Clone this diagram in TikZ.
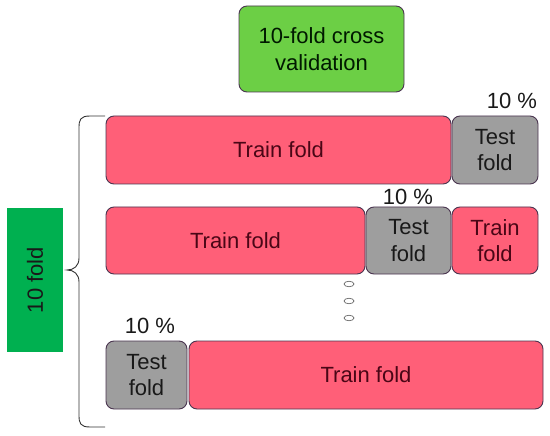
\documentclass[tikz,border=0pt]{standalone}
\usepackage{fontspec}
\setmainfont{Liberation Sans}
\usetikzlibrary{shapes.geometric}
\definecolor{trainc}{HTML}{FF5F78}
\definecolor{testc}{HTML}{9E9E9E}
\definecolor{topc}{HTML}{6CCF45}
\definecolor{foldc}{HTML}{00B050}
\definecolor{edgec}{HTML}{4A3550}
\definecolor{traintext}{HTML}{4A0616}
\tikzset{
  cell/.style={draw=edgec, line width=0.9pt, rounded corners=8pt, inner sep=0pt, align=center,
    font=\fontsize{22}{26.5}\selectfont},
  trainbox/.style={cell, fill=trainc, text=traintext},
  testbox/.style={cell, fill=testc, text=black!90},
  pct/.style={font=\fontsize{22}{26}\selectfont, text=black!90, inner sep=0pt},
  dot/.style={draw=black!60, line width=0.7pt, ellipse, minimum width=10pt, minimum height=5.5pt, inner sep=0pt},
}
\begin{document}
\begin{tikzpicture}[x=1pt,y=-1pt]
\useasboundingbox (0,0) rectangle (550,436);
% title
\node[cell, fill=topc, text=black!90!green, minimum width=165pt, minimum height=86pt] (top) at (321.5,49) {10-fold cross\\validation};
% row 1
\node[trainbox, minimum width=345pt, minimum height=68pt] (r1train) at (278.5,150) {Train fold};
\node[testbox, minimum width=86pt, minimum height=68pt] (r1test) at (495,150) {Test\\fold};
\node[pct] (p1) at (512,101) {10 \%};
% row 2
\node[trainbox, minimum width=259pt, minimum height=67pt] (r2train) at (235.5,240.5) {Train fold};
\node[testbox, minimum width=85pt, minimum height=67pt] (r2test) at (408.5,240.5) {Test\\fold};
\node[trainbox, minimum width=86pt, minimum height=67pt] (r2train2) at (495,240.5) {Train\\fold};
\node[pct] (p2) at (408,197) {10 \%};
% dots
\node[dot] (d1) at (349,284) {};
\node[dot] (d2) at (349,301) {};
\node[dot] (d3) at (349,318) {};
% row 3
\node[testbox, minimum width=81pt, minimum height=68pt] (r3test) at (146.5,375) {Test\\fold};
\node[trainbox, minimum width=354pt, minimum height=68pt] (r3train) at (366,375) {Train fold};
\node[pct] (p3) at (150,326) {10 \%};
% 10 fold label
\node[fill=foldc, minimum width=56pt, minimum height=144pt, inner sep=0pt] (fold) at (35,280) {};
\node[rotate=90, font=\fontsize{22}{26}\selectfont, text=black!90] (foldtext) at (fold.center) {10 fold};
% brace
\coordinate (btop) at (105,116);
\coordinate (bbot) at (105,427);
\coordinate (btip) at (67,270);
\draw[line width=0.9pt, black!80]
  (btop) -- (90,116) .. controls (80,116) and (79,120) .. (79,128)
  -- (79,258) .. controls (79,266) and (74,270) .. (btip)
  .. controls (74,270) and (79,274) .. (79,282)
  -- (79,415) .. controls (79,423) and (80,427) .. (90,427) -- (bbot);
\end{tikzpicture}
\end{document}
